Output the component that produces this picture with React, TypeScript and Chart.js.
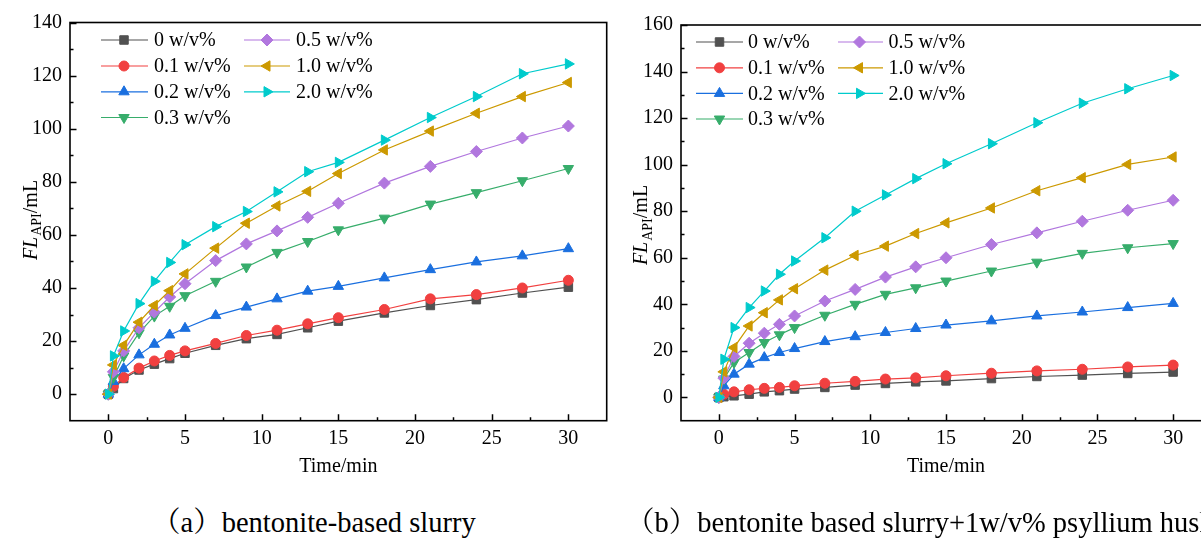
import React, { useEffect, useRef } from 'react';
import { Chart, registerables } from 'chart.js';
import { drawPoint } from 'chart.js/helpers';

Chart.register(...registerables);

const FONT = "'Liberation Serif', 'Times New Roman', serif";
const CAPTION_FONT = "'Liberation Serif', 'Noto Serif CJK SC', 'Noto Sans CJK SC', serif";

// ---------- data ----------
const times = [0, 0.33, 1, 2, 3, 4, 5, 7, 9, 11, 13, 15, 18, 21, 24, 27, 30];

const seriesLabels = ['0 w/v%', '0.1 w/v%', '0.2 w/v%', '0.3 w/v%', '0.5 w/v%', '1.0 w/v%', '2.0 w/v%'];

// (a) bentonite-based slurry
const a0 = [0, 2.1, 5.9, 9.1, 11.3, 13.4, 15.4, 18.4, 20.9, 22.5, 25.0, 27.5, 30.6, 33.4, 35.6, 38.1, 40.3];
const a01 = [0, 2.9, 6.3, 9.8, 12.5, 14.6, 16.3, 19.1, 22.1, 24.1, 26.5, 28.8, 31.9, 35.9, 37.5, 40.0, 42.9];
const a02 = [0, 4.8, 9.6, 14.8, 18.8, 22.3, 24.8, 29.6, 32.8, 35.9, 38.8, 40.6, 43.8, 46.9, 49.8, 52.1, 54.8];
const a03 = [0, 6.3, 14.4, 23.1, 29.4, 33.1, 37.1, 42.5, 47.9, 53.4, 57.5, 61.9, 66.3, 71.6, 75.9, 80.4, 85.0];
const a05 = [0, 8.4, 16.3, 25.0, 30.9, 36.6, 41.6, 50.3, 56.6, 61.5, 66.6, 71.9, 79.5, 85.8, 91.4, 96.5, 101.0];
const a10 = [0, 11.0, 18.4, 27.1, 33.4, 39.0, 45.3, 55.0, 64.4, 70.9, 76.4, 83.1, 92.0, 99.1, 105.8, 112.1, 117.4];
const a20 = [0, 14.4, 23.8, 34.1, 42.5, 49.6, 56.3, 63.1, 68.8, 76.2, 83.8, 87.3, 95.7, 104.2, 112.1, 120.7, 124.4];

// (b) bentonite based slurry + 1 w/v% psyllium husk
const b0 = [0, 0.3, 0.7, 1.4, 2.4, 2.9, 3.6, 4.3, 5.3, 6.0, 6.7, 7.1, 8.1, 9.0, 9.6, 10.3, 10.9];
const b01 = [0, 1.4, 2.4, 3.3, 3.9, 4.3, 5.0, 6.1, 6.9, 7.9, 8.4, 9.3, 10.4, 11.4, 12.1, 13.1, 13.9];
const b02 = [0, 5.0, 10.0, 14.3, 17.1, 19.3, 21.0, 24.0, 26.1, 27.9, 29.6, 31.1, 32.9, 35.0, 36.7, 38.6, 40.4];
const b03 = [0, 7.9, 15.0, 19.3, 23.6, 26.9, 30.0, 35.3, 40.0, 44.3, 47.1, 50.0, 54.3, 58.1, 61.9, 64.3, 66.1];
const b05 = [0, 8.3, 17.6, 23.3, 27.6, 31.4, 35.0, 41.4, 46.4, 51.7, 56.1, 60.0, 65.7, 70.7, 75.7, 80.4, 84.7];
const b10 = [0, 11.0, 21.4, 30.7, 36.4, 41.9, 46.7, 54.7, 61.0, 65.0, 70.4, 75.0, 81.4, 88.8, 94.4, 100.1, 103.3];
const b20 = [0, 16.4, 30.0, 38.6, 45.7, 52.9, 58.6, 68.6, 80.0, 87.0, 94.0, 100.4, 109.0, 118.0, 126.4, 132.6, 138.3];

const xTicks = [0, 5, 10, 15, 20, 25, 30];
const xMinorTicks = [2.5, 7.5, 12.5, 17.5, 22.5, 27.5];
const yTicksA = [0, 20, 40, 60, 80, 100, 120, 140];
const yMinorA = [10, 30, 50, 70, 90, 110, 130];
const yTicksB = [0, 20, 40, 60, 80, 100, 120, 140, 160];
const yMinorB = [10, 30, 50, 70, 90, 110, 130, 150];

const xTitle = 'Time/min';
const captionA = '（a）bentonite-based slurry';
const captionB = '（b）bentonite based slurry+1w/v% psyllium husk';

// ---------- styles ----------
const seriesColors = ['#515151', '#F14040', '#1A6FDF', '#37AD6B', '#B177DE', '#CC9900', '#00CBCC'];
const pointStyles = ['rect', 'circle', 'triangle', 'triangle', 'rectRot', 'triangle', 'triangle'];
const pointRotations = [0, 0, 0, 180, 0, 270, 90];
const pointRadii = [6, 5, 6, 6, 6, 6, 6];

type PanelCfg = {
  left: number;
  series: number[][];
  yMin: number;
  yMax: number;
  yTicks: number[];
  yMinor: number[];
  padTop: number;
  padRight: number;
  yAxisWidth: number;
  xAxisHeight: number;
  legend: { rows: number[]; col0: [number, number, number, number]; col1: [number, number, number, number] };
  yTitleBaseX: number;
  yTitleCenterY: number;
  xTitleY: number;
};

const W = 640;
const H = 500;

function Panel({ cfg }: { cfg: PanelCfg }) {
  const ref = useRef<HTMLCanvasElement>(null);
  useEffect(() => {
    const decor = {
      id: 'decor',
      afterDraw(chart: any) {
        const { ctx, chartArea } = chart;
        const xs = chart.scales.x;
        const ys = chart.scales.y;
        ctx.save();
        // ticks (inward)
        ctx.strokeStyle = '#000';
        ctx.lineWidth = 1.5;
        ctx.beginPath();
        xTicks.forEach((v) => {
          const px = Math.round(xs.getPixelForValue(v)) + 0.5;
          ctx.moveTo(px, chartArea.bottom);
          ctx.lineTo(px, chartArea.bottom - 6.5);
        });
        xMinorTicks.forEach((v) => {
          const px = Math.round(xs.getPixelForValue(v)) + 0.5;
          ctx.moveTo(px, chartArea.bottom);
          ctx.lineTo(px, chartArea.bottom - 3.5);
        });
        cfg.yTicks.forEach((v) => {
          const py = Math.round(ys.getPixelForValue(v)) + 0.5;
          ctx.moveTo(chartArea.left, py);
          ctx.lineTo(chartArea.left + 6.5, py);
        });
        cfg.yMinor.forEach((v) => {
          const py = Math.round(ys.getPixelForValue(v)) + 0.5;
          ctx.moveTo(chartArea.left, py);
          ctx.lineTo(chartArea.left + 3.5, py);
        });
        ctx.stroke();
        // frame
        ctx.lineWidth = 1.6;
        ctx.strokeRect(chartArea.left, chartArea.top, chartArea.right - chartArea.left, chartArea.bottom - chartArea.top);

        // x title
        ctx.fillStyle = '#000';
        ctx.font = `20px ${FONT}`;
        ctx.textAlign = 'center';
        ctx.textBaseline = 'middle';
        ctx.fillText(xTitle, (chartArea.left + chartArea.right) / 2, cfg.xTitleY);

        // y title FL_API/mL
        ctx.save();
        ctx.translate(cfg.yTitleBaseX, cfg.yTitleCenterY);
        ctx.rotate(-Math.PI / 2);
        ctx.textAlign = 'left';
        ctx.textBaseline = 'alphabetic';
        const fMain = `20px ${FONT}`;
        const fItal = `italic 20px ${FONT}`;
        const fSub = `14px ${FONT}`;
        ctx.font = fItal;
        const w1 = ctx.measureText('FL').width + 1;
        ctx.font = fSub;
        const w2 = ctx.measureText('API').width;
        ctx.font = fMain;
        const w3 = ctx.measureText('/mL').width;
        let x0 = -(w1 + w2 + w3) / 2;
        ctx.font = fItal;
        ctx.fillText('FL', x0, 0);
        x0 += w1;
        ctx.font = fSub;
        ctx.fillText('API', x0, 4.5);
        x0 += w2;
        ctx.font = fMain;
        ctx.fillText('/mL', x0, 0);
        ctx.restore();

        // legend
        const L = cfg.legend;
        ctx.font = `20px ${FONT}`;
        ctx.textAlign = 'left';
        ctx.textBaseline = 'middle';
        seriesLabels.forEach((label, i) => {
          const col = i < 4 ? L.col0 : L.col1;
          const row = i < 4 ? i : i - 4;
          const y = L.rows[row];
          const [lx1, lx2, mx, tx] = col;
          ctx.strokeStyle = seriesColors[i];
          ctx.lineWidth = 1.2;
          ctx.beginPath();
          ctx.moveTo(lx1, y);
          ctx.lineTo(lx2, y);
          ctx.stroke();
          ctx.fillStyle = seriesColors[i];
          ctx.lineWidth = 1;
          drawPoint(ctx, { pointStyle: pointStyles[i], rotation: pointRotations[i], radius: pointRadii[i], borderWidth: 1 } as any, mx, y);
          ctx.fillStyle = '#000';
          ctx.fillText(label, tx, y + 1);
        });
        ctx.restore();
      },
    };

    const datasets = cfg.series.map((vals, i) => ({
      label: seriesLabels[i],
      data: times.map((t, k) => ({ x: t, y: vals[k] })),
      borderColor: seriesColors[i],
      backgroundColor: seriesColors[i],
      pointBackgroundColor: seriesColors[i],
      pointBorderColor: seriesColors[i],
      pointStyle: pointStyles[i],
      pointRotation: pointRotations[i],
      pointRadius: pointRadii[i],
      pointBorderWidth: 1,
      borderWidth: 1.2,
      tension: 0,
      order: 6 - i,
    }));

    const chart = new Chart(ref.current as HTMLCanvasElement, {
      type: 'line',
      data: { datasets } as any,
      options: {
        responsive: false,
        animation: false,
        devicePixelRatio: 1,
        layout: { padding: { left: 0, top: cfg.padTop, right: cfg.padRight, bottom: 0 } },
        plugins: { legend: { display: false }, tooltip: { enabled: false } },
        scales: {
          x: {
            type: 'linear',
            min: -2.5,
            max: 32.5,
            grid: { display: false, drawTicks: false },
            border: { display: false },
            afterBuildTicks: (s: any) => {
              s.ticks = xTicks.map((v) => ({ value: v }));
            },
            afterFit: (s: any) => {
              s.height = cfg.xAxisHeight;
            },
            ticks: {
              font: { family: FONT, size: 20 },
              color: '#000',
              padding: 6,
              maxRotation: 0,
              autoSkip: false,
            },
          },
          y: {
            type: 'linear',
            min: cfg.yMin,
            max: cfg.yMax,
            grid: { display: false, drawTicks: false },
            border: { display: false },
            afterBuildTicks: (s: any) => {
              s.ticks = cfg.yTicks.map((v) => ({ value: v }));
            },
            afterFit: (s: any) => {
              s.width = cfg.yAxisWidth;
            },
            ticks: {
              font: { family: FONT, size: 20 },
              color: '#000',
              padding: 8,
              autoSkip: false,
            },
          },
        },
      } as any,
      plugins: [decor],
    });
    return () => chart.destroy();
  }, []);
  return (
    <canvas
      ref={ref}
      width={W}
      height={H}
      style={{ position: 'absolute', left: cfg.left, top: 0, width: W, height: H }}
    />
  );
}

const cfgA: PanelCfg = {
  left: 0,
  series: [a0, a01, a02, a03, a05, a10, a20],
  yMin: -10,
  yMax: 140,
  yTicks: yTicksA,
  yMinor: yMinorA,
  padTop: 22.5,
  padRight: W - 606.7,
  yAxisWidth: 70,
  xAxisHeight: H - 420.7,
  legend: { rows: [40, 66, 91.8, 117.5], col0: [101, 148, 124, 154], col1: [244, 290, 267, 296] },
  yTitleBaseX: 36.5,
  yTitleCenterY: 220,
  xTitleY: 467,
};

const cfgB: PanelCfg = {
  left: 600,
  series: [b0, b01, b02, b03, b05, b10, b20],
  yMin: -10,
  yMax: 160,
  yTicks: yTicksB,
  yMinor: yMinorB,
  padTop: 25,
  padRight: W - 611,
  yAxisWidth: 81,
  xAxisHeight: H - 420.7,
  legend: { rows: [42, 67.8, 93.4, 119], col0: [96, 143, 119.5, 148], col1: [238, 283, 259.5, 288.5] },
  yTitleBaseX: 47,
  yTitleCenterY: 225,
  xTitleY: 467,
};

const captionStyle = {
  position: 'absolute' as const,
  top: 507,
  font: `28.5px ${CAPTION_FONT}`,
  lineHeight: '32px',
  whiteSpace: 'nowrap' as const,
  color: '#000',
};

export default function App() {
  return (
    <div
      style={{
        position: 'fixed',
        left: 0,
        top: 0,
        width: 1201,
        height: 540,
        overflow: 'hidden',
        background: '#fff',
      }}
    >
      <Panel cfg={cfgA} />
      <Panel cfg={cfgB} />
      <div style={{ ...captionStyle, left: 152 }}>{captionA}</div>
      <div style={{ ...captionStyle, left: 626 }}>{captionB}</div>
    </div>
  );
}
